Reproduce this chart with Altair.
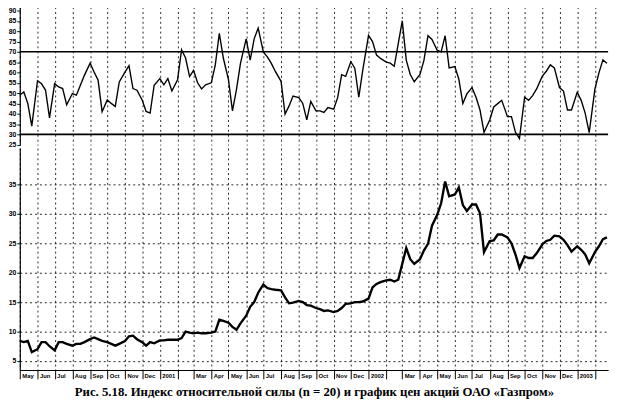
import altair as alt
import pandas as pd

# ---- data (4 samples per month, days 1, 8, 15, 22) ----
sample_days = [0, 7, 14, 21]
month_starts = pd.date_range("2000-05-01", "2003-02-01", freq="MS")

rsi_values = [
    49, 50.6, 45, 34,       56, 54.5, 51.5, 38,     54.6, 53, 52.2, 44.3,
    49.8, 49, 53.8, 58.6,   64.5, 60.2, 56.2, 41,   46.7, 45, 43.5, 55.4,
    60.2, 63.3, 52.2, 51.4, 46.7, 41.1, 40.3, 53.8, 57, 54, 57, 51,
    56.5, 71, 67, 58,       61, 55, 52, 54,         55, 63.7, 79, 67,
    56.5, 41.4, 51.7, 64.4, 76.3, 66, 76.3, 81.5,   70, 67.6, 64.4, 60.5,
    55.7, 39.8, 43.8, 48.6, 47.8, 45, 37, 46,       41.4, 41.4, 40.6, 43,
    42.2, 47.8, 58.9, 58.1, 65.2, 62.1, 48, 61.3,   78, 75, 68.4, 66.8,
    65, 64.5, 63, 74,       85, 66, 59, 55.5,       59, 66, 77.8, 76,
    70.8, 70, 77.8, 62.2,   62.9, 56.7, 44.9, 49.6, 52.7, 48, 41.8, 31,
    37, 43.3, 44.9, 46.5,   38.6, 38.6, 31, 28,     48, 46.5, 48.8, 52,
    58.2, 60.6, 63.7, 62.2, 52.7, 51, 41.8, 41.8,   50.4, 46.5, 40.2, 30.8,
    52, 59.8, 66.1, 64.5,
]

price_values = [
    8.4, 8.2, 8.4, 6.5,     7.0, 8.2, 8.2, 7.5,     6.8, 8.2, 8.2, 7.9,
    7.6, 7.9, 7.9, 8.2,     8.7, 9.0, 8.7, 8.4,     8.2, 7.9, 7.6, 7.9,
    8.4, 9.2, 9.3, 8.7,     8.2, 7.6, 8.2, 8.0,     8.5, 8.5, 8.6, 8.6,
    8.6, 8.9, 10.0, 9.8,    9.7, 9.8, 9.7, 9.7,     9.8, 10.0, 12.0, 11.8,
    11.5, 10.8, 10.3, 11.4, 12.7, 14.2, 15.0, 16.6, 18.0, 17.4, 17.2, 17.1,
    17.0, 15.8, 14.8, 14.9, 15.2, 15.0, 14.5, 14.4, 14.0, 13.8, 13.5, 13.6,
    13.3, 13.5, 14.0, 14.7, 14.8, 15.0, 15.0, 15.1, 15.6, 17.5, 18.1, 18.4,
    18.7, 18.8, 18.5, 18.8, 21.5, 24.2, 22.3, 21.5, 22.3, 23.8, 24.9, 28.0,
    29.8, 31.8, 35.5, 33.0, 33.3, 34.5, 31.5, 30.5, 31.6, 31.6, 30.1, 23.5,
    25.4, 25.5, 26.5, 26.5, 26.0, 25.0, 23.1, 20.8, 22.8, 22.5, 22.5, 23.3,
    24.8, 25.4, 25.6, 26.3, 26.2, 25.6, 24.7, 23.6, 24.5, 23.9, 23.1, 21.6,
    23.5, 24.5, 25.7, 26.0,
]

rsi_levels = [70, 30]
rsi_ticks = [25, 30, 35, 40, 45, 50, 55, 60, 65, 70, 75, 80, 85, 90]
price_ticks = [5, 10, 15, 20, 25, 30, 35]
caption = "Рис. 5.18. Индекс относительной силы (n = 20) и график цен акций ОАО «Газпром»"

dates = [m + pd.Timedelta(days=d) for m in month_starts for d in sample_days]
df = pd.DataFrame({"date": dates, "rsi": rsi_values, "price": price_values})
levels_df = pd.DataFrame({"level": rsi_levels})

x_domain = [alt.DateTime(year=2000, month=5, date=1), alt.DateTime(year=2003, month=2, date=24)]
month_vals = [alt.DateTime(year=m.year, month=m.month, date=1) for m in month_starts]

W = 599
grid_kw = dict(grid=True, gridDash=[2, 3], gridColor="black", gridOpacity=0.85, gridWidth=1)

x_top = alt.X(
    "date:T",
    scale=alt.Scale(domain=x_domain),
    axis=alt.Axis(values=month_vals, labels=False, ticks=False, domain=False, title=None, **grid_kw),
)
rsi_scale = alt.Scale(domain=[24.8, 94.3], nice=False, zero=False)
y_top_axis = alt.Axis(values=rsi_ticks, grid=False, title=None)

top_line = alt.Chart(df).mark_line(color="black", strokeWidth=1.4).encode(
    x=x_top, y=alt.Y("rsi:Q", scale=rsi_scale, axis=y_top_axis)
)
top_rules = alt.Chart(levels_df).mark_rule(color="black", strokeWidth=1.6).encode(
    y=alt.Y("level:Q", scale=rsi_scale, axis=y_top_axis)
)
top = alt.layer(top_line, top_rules).properties(width=W, height=146)

x_bot = alt.X(
    "date:T",
    scale=alt.Scale(domain=x_domain),
    axis=alt.Axis(
        values=month_vals,
        labelExpr="month(datum.value) == 0 ? timeFormat(datum.value, '%Y') : (month(datum.value) == 1 ? '' : timeFormat(datum.value, '%b'))",
        labelAlign="left",
        labelBaseline="top",
        labelOffset=2,
        labelPadding=-6,
        labelFontSize=6,
        labelOverlap=False,
        tickSize=9,
        title=caption,
        titleFont="Liberation Serif",
        titleFontSize=13,
        titleFontWeight="bold",
        titleColor="black",
        titlePadding=6,
        **grid_kw,
    ),
)
bottom = alt.Chart(df).mark_line(color="black", strokeWidth=2.4).encode(
    x=x_bot,
    y=alt.Y(
        "price:Q",
        scale=alt.Scale(domain=[3.46, 41.2], nice=False, zero=False),
        axis=alt.Axis(values=price_ticks, title=None, **grid_kw),
    ),
).properties(width=W, height=226)

chart = (
    alt.vconcat(top, bottom, spacing=0)
    .properties(padding={"left": 0, "top": -10, "right": 0, "bottom": 0})
    .configure_view(stroke=None)
    .configure_axis(
        domainColor="black",
        domainWidth=1.2,
        tickColor="black",
        tickSize=3,
        labelColor="black",
        labelFont="Liberation Sans",
        labelFontSize=7,
        labelFontWeight="bold",
        labelPadding=1,
    )
)

chart.save("out.html", embed_options={"renderer": "svg", "actions": False})
